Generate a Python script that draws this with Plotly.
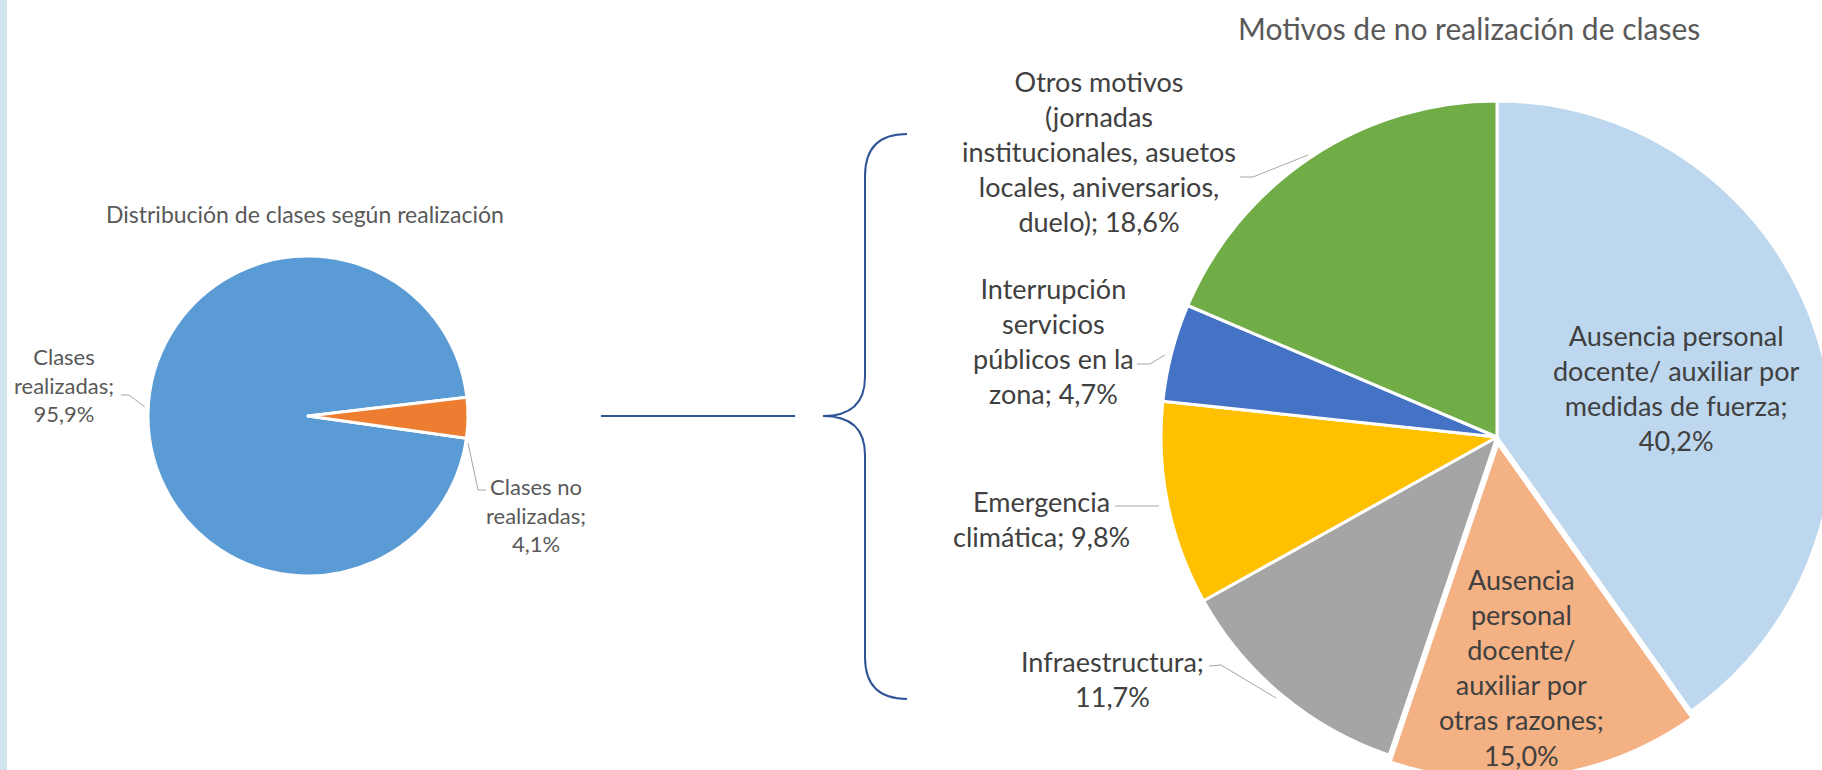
import plotly.graph_objects as go

# ---------------- data ----------------
left_title = "Distribución de clases según realización"
left_categories = ["Clases realizadas", "Clases no realizadas"]
left_values = [95.9, 4.1]

right_title = "Motivos de no realización de clases"
right_categories = [
    "Ausencia personal docente/ auxiliar por medidas de fuerza",
    "Ausencia personal docente/ auxiliar por otras razones",
    "Infraestructura",
    "Emergencia climática",
    "Interrupción servicios públicos en la zona",
    "Otros motivos (jornadas institucionales, asuetos locales, aniversarios, duelo)",
]
right_values = [40.2, 15.0, 11.7, 9.8, 4.7, 18.6]

# ---------------- styles / layout ----------------
W, H = 1860, 800          # page is clipped to the 1822x770 window
FONT = "Lato"

left_colors = ["#5B9BD5", "#ED7D31"]
right_colors = ["#BDD7EE", "#F4B183", "#A5A5A5", "#FFC000", "#4472C4", "#70AD47"]

left_wrap = [[1, 1, 1], [2, 1, 1]]
right_wrap = [[2, 3, 3, 1], [1, 1, 1, 2, 2, 1], [1, 1], [1, 2], [1, 1, 3, 2], [2, 1, 2, 2, 2]]

left_label_pos = [(64, 385), (536, 515)]
right_label_pos = [(1676, 388), (1521, 667), (1112, 679), (1041, 519), (1053, 341), (1099, 152)]

left_center, left_r = (308, 416), 160
right_center, right_r = (1497, 437), 336
right_pull = [0, 0.02, 0, 0, 0, 0]


def px(x):
    return x / W


def py(y):
    return 1 - y / H


def fmt(v):
    return f"{v:.1f}".replace(".", ",") + "%"


def wrap(cat, val, counts):
    words = f"{cat}; {fmt(val)}".split(" ")
    lines, i = [], 0
    for c in counts:
        lines.append(" ".join(words[i:i + c]))
        i += c
    if i < len(words):
        lines[-1] += " " + " ".join(words[i:])
    return "<br>".join(lines)


def domain(center, r, pull):
    half = r * (1 + pull)
    cx, cy = center
    return dict(x=[px(cx - half), px(cx + half)], y=[py(cy + half), py(cy - half)])


fig = go.Figure()

fig.add_trace(go.Pie(
    labels=left_categories, values=left_values, sort=False,
    direction="clockwise", rotation=98,
    marker=dict(colors=left_colors, line=dict(color="white", width=3)),
    textinfo="none", showlegend=False,
    domain=domain(left_center, left_r, 0),
))

fig.add_trace(go.Pie(
    labels=right_categories, values=right_values, sort=False,
    direction="clockwise", rotation=0, pull=right_pull,
    marker=dict(colors=right_colors, line=dict(color="white", width=3)),
    textinfo="none", showlegend=False,
    domain=domain(right_center, right_r, max(right_pull)),
))

annotations = []
annotations.append(dict(x=px(305), y=py(214), text=left_title,
                        font=dict(family=FONT, size=23, color="#595959")))
annotations.append(dict(x=px(1469), y=py(28), text=right_title,
                        font=dict(family=FONT, size=30, color="#595959")))
for cat, val, cnt, (x, y) in zip(left_categories, left_values, left_wrap, left_label_pos):
    annotations.append(dict(x=px(x), y=py(y), text=wrap(cat, val, cnt),
                            font=dict(family=FONT, size=22, color="#595959")))
for cat, val, cnt, (x, y) in zip(right_categories, right_values, right_wrap, right_label_pos):
    annotations.append(dict(x=px(x), y=py(y), text=wrap(cat, val, cnt),
                            font=dict(family=FONT, size=27, color="#404040")))
for a in annotations:
    a.update(xref="paper", yref="paper", showarrow=False,
             xanchor="center", yanchor="middle", align="center")


def path(points):
    return "M " + " L ".join(f"{px(x)},{py(y)}" for x, y in points)


leaders = [
    [(121, 395), (129, 395), (145, 407)],
    [(468, 443), (478, 490), (486, 490)],
    [(1240, 177), (1253, 177), (1308, 155)],
    [(1137, 364), (1150, 364), (1165, 355)],
    [(1115, 506), (1159, 506)],
    [(1209, 666), (1221, 665), (1276, 698)],
]

shapes = []
# left light-blue strip
shapes.append(dict(type="rect", xref="paper", yref="paper", x0=0, x1=px(7), y0=0, y1=1,
                   fillcolor="#D1E3EC", line=dict(width=0), layer="below"))
for pts in leaders:
    shapes.append(dict(type="path", xref="paper", yref="paper", path=path(pts),
                       line=dict(color="#A6A6A6", width=1)))

# connector line and brace
BLUE = "#2F5597"
shapes.append(dict(type="line", xref="paper", yref="paper",
                   x0=px(601), x1=px(795), y0=py(416), y1=py(416),
                   line=dict(color=BLUE, width=2)))


def P(x, y):
    return f"{px(x)},{py(y)}"


brace = (f"M {P(907,134)} Q {P(865,134)} {P(865,176)} L {P(865,377)} "
         f"Q {P(865,416)} {P(823,416)} Q {P(865,416)} {P(865,455)} "
         f"L {P(865,657)} Q {P(865,699)} {P(907,699)}")
shapes.append(dict(type="path", xref="paper", yref="paper", path=brace,
                   line=dict(color=BLUE, width=2)))

fig.update_layout(
    width=W, height=H, autosize=False,
    margin=dict(l=0, r=0, t=0, b=0),
    paper_bgcolor="white", plot_bgcolor="white",
    annotations=annotations, shapes=shapes,
    font=dict(family=FONT),
)

fig.write_html(
    "out.html",
    config={"displayModeBar": False},
    post_script="document.documentElement.style.overflow='hidden';"
                "document.body.style.overflow='hidden';document.body.style.margin='0';",
)
